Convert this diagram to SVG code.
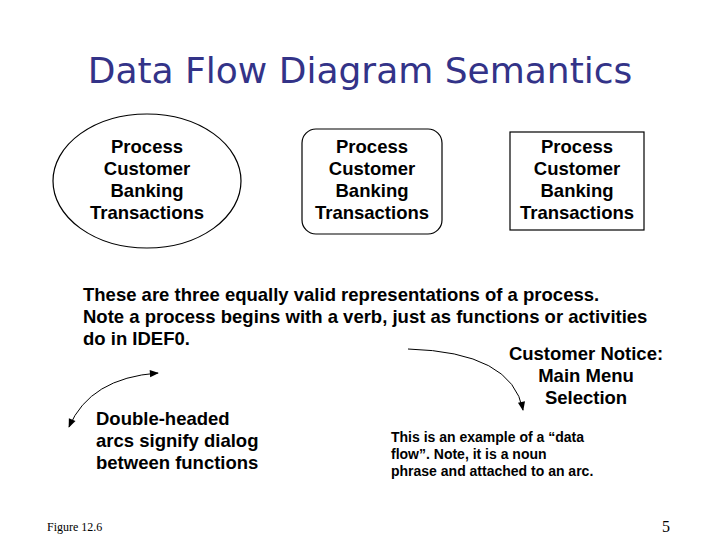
<svg xmlns="http://www.w3.org/2000/svg" width="720" height="540" viewBox="0 0 720 540">
<style>
.t{font-family:"Liberation Sans",Arial,sans-serif;font-weight:bold;fill:#000}
.n{font-size:18.5px;text-anchor:middle}
.s{fill:#fff;stroke:#000;stroke-width:1.2}
.c{fill:none;stroke:#000;stroke-width:1}
</style>
<defs>
<marker id="a" viewBox="0 0 10 10" refX="9" refY="5" markerWidth="11" markerHeight="9" markerUnits="userSpaceOnUse" orient="auto-start-reverse"><path d="M0,1 L10,5 L0,9 Z" fill="#000"/></marker>
</defs>
<rect width="720" height="540" fill="#fff"/>
<text x="360" y="83" font-family="DejaVu Sans,sans-serif" font-size="36" fill="#333388" text-anchor="middle">Data Flow Diagram Semantics</text>
<g id="n1"><ellipse class="s" cx="147" cy="181" rx="94" ry="67"/>
<text class="t n" x="147" y="153">Process</text><text class="t n" x="147" y="175">Customer</text><text class="t n" x="147" y="197">Banking</text><text class="t n" x="147" y="219">Transactions</text></g>
<g id="n2"><rect class="s" x="302" y="129" width="140" height="105" rx="14"/>
<text class="t n" x="372" y="153">Process</text><text class="t n" x="372" y="175">Customer</text><text class="t n" x="372" y="197">Banking</text><text class="t n" x="372" y="219">Transactions</text></g>
<g id="n3"><rect class="s" x="510" y="132" width="134" height="98"/>
<text class="t n" x="577" y="153">Process</text><text class="t n" x="577" y="175">Customer</text><text class="t n" x="577" y="197">Banking</text><text class="t n" x="577" y="219">Transactions</text></g>
<g class="t" font-size="18.5">
<text x="83" y="301">These are three equally valid representations of a process.</text>
<text x="83" y="323">Note a process begins with a verb, just as functions or activities</text>
<text x="83" y="345">do in IDEF0.</text>
</g>
<g id="connectors">
<path class="c" d="M69,427 Q90,378 158,373" marker-start="url(#a)" marker-end="url(#a)"/>
<path class="c" d="M408,349 Q512,352 523,410" marker-end="url(#a)"/>
</g>
<g class="t n">
<text x="586" y="360">Customer Notice:</text><text x="586" y="382">Main Menu</text><text x="586" y="404">Selection</text>
</g>
<g class="t" font-size="18.5">
<text x="96" y="425">Double-headed</text><text x="96" y="447">arcs signify dialog</text><text x="96" y="469">between functions</text>
</g>
<g class="t" font-size="14">
<text x="391" y="442">This is an example of a “data</text><text x="391" y="459">flow”.  Note, it is a noun</text><text x="391" y="476">phrase and attached to an arc.</text>
</g>
<text x="47" y="531" font-family="Liberation Serif,serif" font-size="12">Figure 12.6</text>
<text x="670" y="532" font-family="Liberation Serif,serif" font-size="16" text-anchor="end">5</text>
</svg>
